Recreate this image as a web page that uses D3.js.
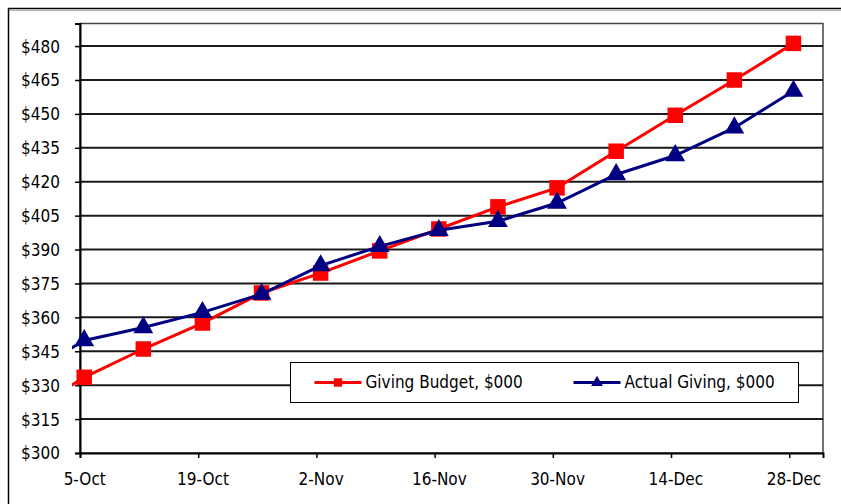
<!DOCTYPE html>
<html>
<head>
<meta charset="utf-8">
<script src="https://cdn.jsdelivr.net/npm/d3@7"></script>
<style>
  body { margin: 0; background: #fff; }
  svg text { font-family: "DejaVu Sans Condensed", "DejaVu Sans", sans-serif; font-stretch: condensed; fill: #000; }
</style>
</head>
<body>
<div id="chart"></div>
<script>
var config = {
  "width": 841,
  "height": 504
}

// week dates (first one sits just off the left edge of the plot)
const weeks = ["2009-09-28", "2009-10-05", "2009-10-12", "2009-10-19", "2009-10-26", "2009-11-02",
  "2009-11-09", "2009-11-16", "2009-11-23", "2009-11-30", "2009-12-07", "2009-12-14",
  "2009-12-21", "2009-12-28"];
const budget = [317, 333.5, 346, 357.5, 370.8, 379.6, 389.4, 399.1, 408.9, 417.3, 433.5, 449.4, 465, 481.2];
const actual = [334, 349.8, 355.5, 362.2, 370.3, 382.9, 391.4, 398.5, 402.5, 410.6, 423.2, 431.6, 443.9, 460.1];
const yTicks = [300, 315, 330, 345, 360, 375, 390, 405, 420, 435, 450, 465, 480];
const xTicks = ["2009-10-05", "2009-10-19", "2009-11-02", "2009-11-16", "2009-11-30", "2009-12-14", "2009-12-28"];
const seriesNames = ["Giving Budget, $000", "Actual Giving, $000"];

window.addEventListener("DOMContentLoaded", main);

function main() {
  const parse = d3.utcParse("%Y-%m-%d");
  const halfDay = 12 * 3600 * 1000;
  const plot = {left: 80, right: 823, top: 23.5, bottom: 453};

  const x = d3.scaleUtc()
    .domain([parse("2009-10-05"), parse("2010-01-01")])
    .range([plot.left, plot.right]);
  const y = d3.scaleLinear()
    .domain([300, 490])
    .range([plot.bottom, plot.top]);

  const svg = d3.select("#chart")
    .append("svg")
    .attr("width", config.width)
    .attr("height", config.height);

  // outer chart frame (runs off the right and bottom of the picture)
  svg.append("rect")
    .attr("x", 8.5).attr("y", 8.5)
    .attr("width", 900).attr("height", 600)
    .style("fill", "none")
    .style("stroke", "#000")
    .style("stroke-width", 1.5);
  svg.append("line")
    .attr("x1", 9).attr("x2", config.width)
    .attr("y1", 10.5).attr("y2", 10.5)
    .style("stroke", "#b0b0b0");

  // plot frame
  svg.append("rect")
    .attr("x", plot.left).attr("y", plot.top)
    .attr("width", plot.right - plot.left)
    .attr("height", plot.bottom - plot.top)
    .style("fill", "none")
    .style("stroke", "#444")
    .style("stroke-width", 1.5);

  // gridlines
  svg.append("g")
    .selectAll("line")
    .data(yTicks.slice(1))
    .enter()
    .append("line")
    .attr("x1", plot.left).attr("x2", plot.right)
    .attr("y1", d => y(d)).attr("y2", d => y(d))
    .style("stroke", "#1a1a1a")
    .style("stroke-width", 2);

  // y axis
  const yAxis = svg.append("g")
    .attr("transform", `translate(${plot.left},0)`)
    .call(d3.axisLeft(y).tickValues(yTicks).tickSize(5).tickPadding(15).tickFormat(d => "$" + d));
  yAxis.select(".domain").style("stroke", "#000").style("stroke-width", 2);
  yAxis.selectAll(".tick line").style("stroke", "#000").style("stroke-width", 1.5);
  yAxis.selectAll("text").style("font-size", "17px").attr("dy", "0.35em");

  // x axis: ticks on dates, labels centred on the day
  const xAxis = svg.append("g")
    .attr("transform", `translate(0,${plot.bottom})`)
    .call(d3.axisBottom(x).tickValues(xTicks.map(parse)).tickSize(5).tickFormat(d3.utcFormat("%-d-%b")));
  xAxis.select(".domain").style("stroke", "#000").style("stroke-width", 2);
  xAxis.selectAll(".tick line").style("stroke", "#000").style("stroke-width", 1.5);
  xAxis.selectAll("text")
    .style("font-size", "17px")
    .attr("x", x(new Date(parse("2009-10-05").getTime() + halfDay)) - plot.left)
    .attr("y", 20);

  // clip lines a little past the left edge, like the original
  svg.append("clipPath")
    .attr("id", "clip")
    .append("rect")
    .attr("x", plot.left - 8).attr("y", 0)
    .attr("width", plot.right - plot.left + 8).attr("height", plot.bottom);

  const px = d => x(new Date(parse(d).getTime() + halfDay));
  const line = d3.line()
    .x(d => px(d.date))
    .y(d => y(d.value));

  const series = [
    {name: seriesNames[0], values: budget, color: "#ff0000", marker: d3.symbolSquare, size: 240},
    {name: seriesNames[1], values: actual, color: "#000080", marker: d3.symbolTriangle, size: 170}
  ];

  const g = svg.append("g").attr("clip-path", "url(#clip)");
  series.forEach(function(s) {
    const pts = weeks.map((w, i) => ({date: w, value: s.values[i]}));
    g.append("path")
      .datum(pts)
      .attr("d", line)
      .style("fill", "none")
      .style("stroke", s.color)
      .style("stroke-width", 3);
    g.selectAll(null)
      .data(pts)
      .enter()
      .append("path")
      .attr("d", d3.symbol().type(s.marker).size(s.size))
      .attr("transform", d => `translate(${px(d.date)},${y(d.value)})`)
      .style("fill", s.color);
  });

  // legend
  const legend = svg.append("g").attr("transform", "translate(290.5,362.5)");
  legend.append("rect")
    .attr("width", 508).attr("height", 40)
    .style("fill", "#fff")
    .style("stroke", "#000")
    .style("stroke-width", 1);
  const itemX = [24, 283];
  series.forEach(function(s, i) {
    const item = legend.append("g").attr("transform", `translate(${itemX[i]},20)`);
    item.append("line")
      .attr("x1", 0).attr("x2", 47)
      .style("stroke", s.color)
      .style("stroke-width", 3);
    item.append("path")
      .attr("d", d3.symbol().type(s.marker).size(i == 0 ? 70 : 60))
      .attr("transform", "translate(23.5,0)")
      .style("fill", s.color);
    item.append("text")
      .attr("x", 51)
      .attr("dy", "0.35em")
      .style("font-size", "17px")
      .text(s.name);
  });
}
</script>
</body>
</html>
